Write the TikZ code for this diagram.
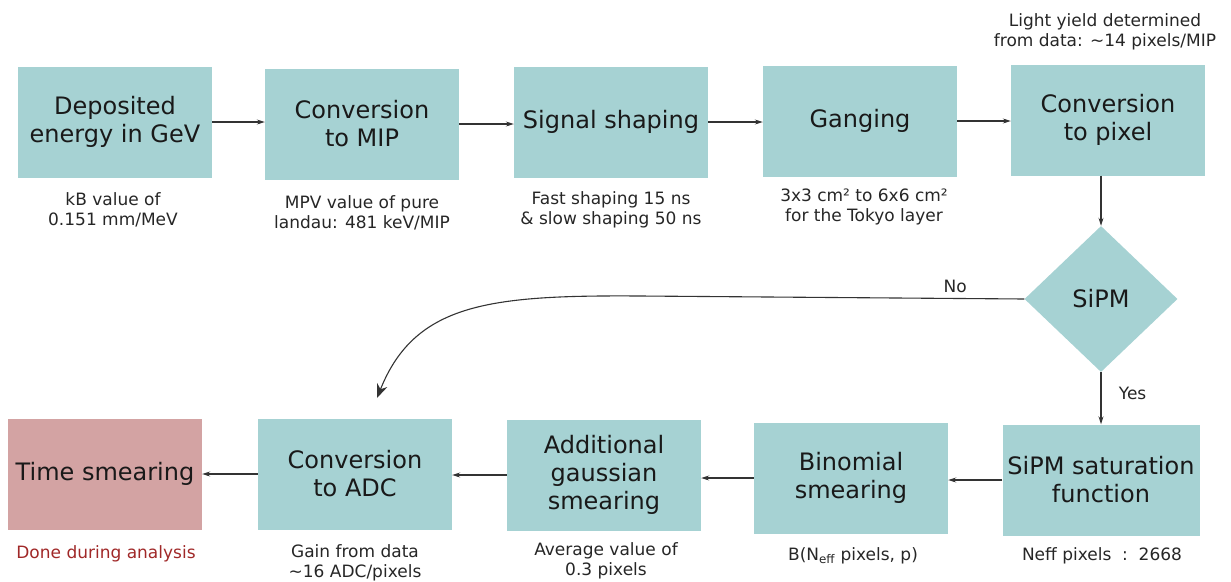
\documentclass[tikz,border=0pt]{standalone}
\usepackage{fontspec}
\setmainfont{DejaVu Sans}
\usepackage{xcolor}
\usepackage{tikz}
\usetikzlibrary{shapes.geometric,arrows.meta,positioning}
\definecolor{boxteal}{RGB}{166,210,211}
\definecolor{boxrose}{RGB}{211,163,163}
\definecolor{notered}{RGB}{160,40,40}
\tikzset{
    stage/.style={fill=boxteal, minimum width=194pt, minimum height=111pt, inner sep=2pt,
        align=center, text=black!90, font=\fontsize{24}{28}\selectfont},
    note/.style={align=center, text=black!85, font=\fontsize{17}{20.5}\selectfont},
    flow/.style={-{Stealth[length=8pt,width=5pt]}, line width=1.1pt, black!80},
}

\begin{document}
\begin{tikzpicture}[x=1pt,y=-1pt]
        \useasboundingbox (0,0) rectangle (1231,581);

        % top row
        \node[stage] (dep) at (115,122) {Deposited\\energy in GeV};
        \node[stage] (mip) at (362,124) {Conversion\\to MIP};
        \node[stage] (shp) at (611,122) {Signal shaping};
        \node[stage] (gang) at (860,121) {Ganging};
        \node[stage] (pix) at (1108,120) {Conversion\\to pixel};

        \node[note] at (113,210) {kB value of\\0.151 mm/MeV};
        \node[note] at (362,213) {MPV value of pure\\landau: 481 keV/MIP};
        \node[note] at (611,210) {Fast shaping 15 ns\\\& slow shaping 50 ns};
        \node[note] at (864,207) {3x3 cm² to 6x6 cm²\\for the Tokyo layer};
        \node[note] at (1105,32) {Light yield determined\\from data: \textasciitilde14 pixels/MIP};

        % decision
        \node[diamond, fill=boxteal, minimum width=153pt, minimum height=146pt, inner sep=0pt,
            text=black!90, font=\fontsize{24}{28}\selectfont] (sipm) at (1101,299) {SiPM};

        % bottom row
        \node[stage, fill=boxrose] (time) at (105,474) {Time smearing};
        \node[stage] (adc) at (355,474) {Conversion\\to ADC};
        \node[stage] (gauss) at (604,475) {Additional\\gaussian\\smearing};
        \node[stage] (binom) at (851,478) {Binomial\\smearing};
        \node[stage, minimum width=197pt] (sat) at (1101,480) {SiPM saturation\\function};

        \node[note, text=notered] at (106,554) {Done during analysis};
        \node[note] at (355,563) {Gain from data\\\textasciitilde16 ADC/pixels};
        \node[note] at (606,561) {Average value of\\0.3 pixels};
        \node[note] at (853,556) {B(N\textsubscript{eff} pixels, p)};
        \node[note] at (1102,556) {Neff pixels\ \ :\ \ 2668};

        \draw[flow] (dep.east) -- (dep.east -| mip.west);
        \draw[flow] (mip.east) -- (mip.east -| shp.west);
        \draw[flow] (shp.east) -- (shp.east -| gang.west);
        \draw[flow] (gang.east) -- (gang.east -| pix.west);
        \draw[flow] (sipm.north |- pix.south) -- (sipm.north);

        \draw[flow] (sipm.south) -- node[note, right=14pt, pos=0.4]{Yes} (sipm.south |- sat.north);
        \coordinate (bend) at (640,296);
        \coordinate (noend) at (377,398);
        \draw[line width=1.1pt, black!80, -{Stealth[length=14pt,width=11pt]}]
            (sipm.west) -- node[note, above=2pt, pos=0.18]{No} (bend)
            .. controls (490,295) and (415,303) .. (noend);

        \draw[flow] (sat.west) -- (sat.west -| binom.east);
        \draw[flow] (binom.west) -- (binom.west -| gauss.east);
        \draw[flow] (gauss.west) -- (gauss.west -| adc.east);
        \draw[flow] (adc.west) -- (adc.west -| time.east);
    \end{tikzpicture}
\end{document}
